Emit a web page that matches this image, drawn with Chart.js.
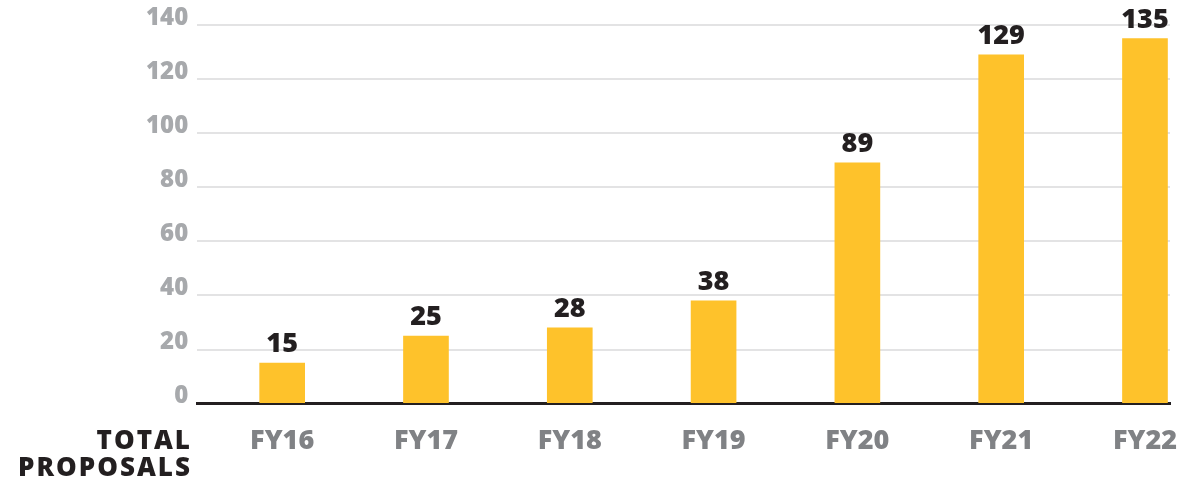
<!DOCTYPE html>
<html>
<head>
<meta charset="utf-8">
<script src="https://cdn.jsdelivr.net/npm/chart.js@4.4.0/dist/chart.umd.min.js"></script>
<style>
    html, body { margin: 0; padding: 0; background: #fff; overflow: hidden; }
    #wrap { position: relative; width: 1188px; height: 482px; }
    #side-title {
        position: absolute;
        right: 996px;
        top: 426px;
        font-family: "Open Sans", sans-serif;
        font-weight: 800;
        font-size: 26px;
        line-height: 27px;
        letter-spacing: 2px;
        color: #231f20;
        text-align: right;
    }
</style>
</head>
<body>
<div id="wrap">
    <canvas id="chart" width="1188" height="482"></canvas>
    <div id="side-title">TOTAL<br>PROPOSALS</div>
</div>
<script>
const categories = ['FY16', 'FY17', 'FY18', 'FY19', 'FY20', 'FY21', 'FY22'];
const proposals = [15, 25, 28, 38, 89, 129, 135];
const yTicks = [0, 20, 40, 60, 80, 100, 120, 140];

const FONT = '"Open Sans", sans-serif';

// value labels above each bar
const valueLabels = {
    id: 'valueLabels',
    afterDatasetsDraw(chart) {
        const ctx = chart.ctx;
        const meta = chart.getDatasetMeta(0);
        ctx.save();
        ctx.font = '800 27px ' + FONT;
        ctx.fillStyle = '#231f20';
        ctx.textAlign = 'center';
        ctx.textBaseline = 'alphabetic';
        meta.data.forEach(function (bar, i) {
            ctx.fillText(String(proposals[i]), bar.x, bar.y - 11);
        });
        ctx.restore();
    }
};

function load_chart(id) {
    const ctx = document.getElementById(id);
    const points = categories.map(function (c, i) {
        return { x: i, y: proposals[i] };
    });

    const data = {
        datasets: [{
            label: 'Total proposals',
            data: points,
            backgroundColor: '#fec22b',
            borderWidth: 0,
            barThickness: 45,
        }]
    };
    const config = {
        type: 'bar',
        data: data,
        plugins: [valueLabels],
        options: {
            responsive: false,
            animation: false,
            layout: {
                padding: { left: 137, right: 18, top: 25, bottom: 2 }
            },
            plugins: {
                legend: { display: false },
                title: { display: false },
                tooltip: { enabled: false }
            },
            scales: {
                x: {
                    type: 'linear',
                    offset: false,
                    min: -0.591,
                    max: 6.174,
                    grid: { display: false, drawTicks: false },
                    border: { display: true, color: '#231f20', width: 3 },
                    afterBuildTicks: function (scale) {
                        scale.ticks = categories.map(function (c, i) { return { value: i }; });
                    },
                    // labels fit inside the canvas, don't let them shrink the plot
                    afterFit: function (scale) {
                        scale.paddingLeft = 0;
                        scale.paddingRight = 0;
                    },
                    ticks: {
                        autoSkip: false,
                        maxRotation: 0,
                        padding: 22,
                        color: '#808285',
                        font: { family: FONT, size: 27, weight: '800' },
                        callback: function (v) { return categories[v]; }
                    }
                },
                y: {
                    min: 0,
                    max: 140,
                    afterBuildTicks: function (scale) {
                        scale.ticks = yTicks.map(function (v) { return { value: v }; });
                    },
                    afterFit: function (scale) {
                        scale.paddingTop = 0;
                        scale.paddingBottom = 0;
                    },
                    grid: { color: '#e3e3e4', lineWidth: 2, drawTicks: false },
                    border: { display: false },
                    ticks: {
                        padding: 9,
                        labelOffset: -7,
                        color: '#a7a9ac',
                        font: { family: FONT, size: 24, weight: '800' }
                    }
                }
            }
        }
    };

    _ = new Chart(ctx, config);
}

load_chart('chart');
</script>
</body>
</html>
